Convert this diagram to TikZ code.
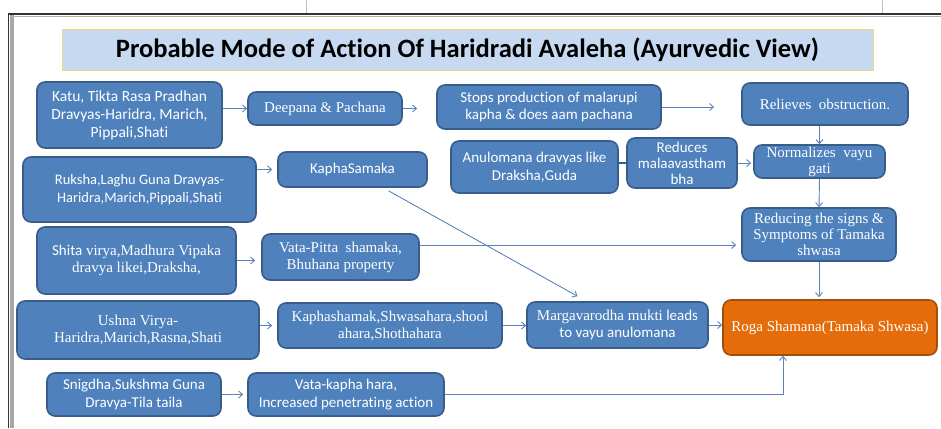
\documentclass[tikz,border=0pt]{standalone}
\usepackage{fontspec}
\setmainfont{Carlito}[Ligatures=NoCommon]
\newfontfamily\serifm{Liberation Serif}[Ligatures=NoCommon]
\newfontfamily\sansm{Carlito}[Ligatures=NoCommon]
\usetikzlibrary{arrows.meta}
\definecolor{boxfill}{HTML}{4F81BD}
\definecolor{boxline}{HTML}{385D8A}
\definecolor{arrowc}{HTML}{5B84B8}
\definecolor{orfill}{HTML}{E46C0A}
\definecolor{orline}{HTML}{A0500A}
\definecolor{titlefill}{HTML}{C6D9F1}
\definecolor{titleline}{HTML}{F2D77E}
\tikzset{
  bx/.style={draw=boxline, line width=1.6pt, fill=boxfill, rounded corners=8pt,
    text=white, align=center, inner sep=0pt, font=\sansm\fontsize{15}{17.5}\selectfont},
  sbx/.style={bx, font=\serifm\fontsize{15}{17}\selectfont},
  arr/.style={draw=arrowc, line width=0.9pt, -{Straight Barb[length=4pt,width=7pt]}}
}
\begin{document}
\begin{tikzpicture}[x=1pt,y=-1pt]
\useasboundingbox (0,0) rectangle (941,428);
\fill[white] (0,0) rectangle (941,428);
% frame
\draw[black!80, line width=1.5pt] (8.5,428) -- (8.5,14) -- (941,14);
\fill[black!35] (10,15) rectangle (14,428);
\draw[black!30, line width=0.6pt] (10,16) -- (941,16);
\draw[black!25, line width=0.5pt] (306,0) -- (306,13);
\draw[black!25, line width=0.5pt] (882,0) -- (882,13);
% title
\node[draw=titleline, line width=1pt, fill=titlefill, minimum width=811pt, minimum height=40pt, inner sep=0pt,
  font=\sansm\bfseries\fontsize{26.5}{30}\selectfont] (title) at (467.5,50) {Probable Mode of Action Of Haridradi Avaleha (Ayurvedic View)};
% nodes
\node[bx, minimum width=185pt, minimum height=66pt, font=\sansm\fontsize{15.5}{18}\selectfont] (A) at (129.5,115) {Katu, Tikta Rasa Pradhan\\Dravyas-Haridra, Marich,\\Pippali,Shati};
\node[sbx, minimum width=154pt, minimum height=33pt] (B) at (325,108.5) {Deepana \& Pachana};
\node[bx, minimum width=224pt, minimum height=44pt, font=\sansm\fontsize{15}{16.5}\selectfont] (C) at (549,107) {Stops production of malarupi\\kapha \& does aam pachana};
\node[sbx, minimum width=166pt, minimum height=42pt] (D) at (825,104) {Relieves\ \ obstruction.};
\node[sbx, minimum width=131pt, minimum height=33pt, font=\serifm\fontsize{15}{16}\selectfont] (E) at (819.5,161.5) {Normalizes\ \ vayu\\gati};
\node[bx, minimum width=167pt, minimum height=52pt] (F) at (534.5,167) {Anulomana dravyas like\\Draksha,Guda};
\node[bx, minimum width=110pt, minimum height=50pt, font=\sansm\fontsize{15}{16}\selectfont] (G) at (682,163) {Reduces\\malaavastham\\bha};
\node[bx, minimum width=233pt, minimum height=65pt, font=\sansm\fontsize{14.5}{17.5}\selectfont] (H) at (139.5,189.5) {Ruksha,Laghu Guna Dravyas-\\Haridra,Marich,Pippali,Shati};
\node[bx, minimum width=149pt, minimum height=35pt] (I) at (352.5,169.5) {KaphaSamaka};
\node[sbx, minimum width=199pt, minimum height=67pt] (J) at (136.5,260.5) {{\sansm Shita} virya,Madhura Vipaka\\dravya likei,Draksha,};
\node[sbx, minimum width=157pt, minimum height=46pt] (K) at (340.5,257) {Vata-Pitta\ \ shamaka,\\Bhuhana property};
\node[sbx, minimum width=154pt, minimum height=53pt, font=\serifm\fontsize{15}{16}\selectfont] (L) at (819,234.5) {Reducing the signs \&\\Symptoms of Tamaka\\shwasa};
\node[sbx, minimum width=242pt, minimum height=58pt] (M) at (138,330) {Ushna Virya-\\Haridra,Marich,Rasna,Shati};
\node[sbx, minimum width=224pt, minimum height=45pt] (N) at (390,325.5) {Kaphashamak,Shwasahara,shool\\ahara,Shothahara};
\node[bx, minimum width=181pt, minimum height=46pt] (O) at (617.5,325) {{\serifm Margavarodha mukti} leads\\to vayu anulomana};
\node[sbx, draw=orline, fill=orfill, minimum width=214pt, minimum height=55pt] (P) at (830,327.5) {Roga Shamana(Tamaka Shwasa)};
\node[bx, minimum width=174pt, minimum height=43pt] (Q) at (134,394.5) {Snigdha,Sukshma Guna\\Dravya-Tila taila};
\node[bx, minimum width=196pt, minimum height=43pt] (R) at (346,394.5) {Vata-kapha hara,\\Increased penetrating action};
% connectors
\draw[arr] (A.east |- B.west) -- (B.west);
\draw[arr, shorten >=19pt] (B.east) -- (B.east -| C.west);
\draw[arr, shorten >=27pt] (C.east) -- (C.east -| D.west);
\draw[arr] (E.north |- D.south) -- (E.north);
\draw[draw=boxline, line width=2.5pt] (G.west -| F.east) -- (G.west);
\draw[arr, shorten >=2pt] (G.east) -- (G.east -| E.west);
\draw[arr, shorten >=5pt] (H.east |- I.west) -- (I.west);
\draw[arr] ([xshift=36pt,yshift=-3pt]I.south) -- ([xshift=-40pt,yshift=5pt]O.north);
\draw[arr, shorten >=6pt] (J.east) -- (J.east -| K.west);
\draw[arr, shorten >=5pt] ([yshift=12pt]K.east) -- ([yshift=12pt]K.east -| L.west);
\draw[arr] (E.south) -- (L.north);
\draw[arr, shorten >=2pt] (L.south) -- (L.south |- P.north);
\draw[arr, shorten >=5pt] (M.east |- N.west) -- (N.west);
\draw[arr] (N.east) -- (N.east -| O.west);
\draw[arr] (O.east) -- (O.east -| P.west);
\draw[arr, shorten >=4pt] (Q.east) -- (R.west);
\draw[arr] (R.east) -| ([xshift=-47pt]P.south);
\end{tikzpicture}
\end{document}
